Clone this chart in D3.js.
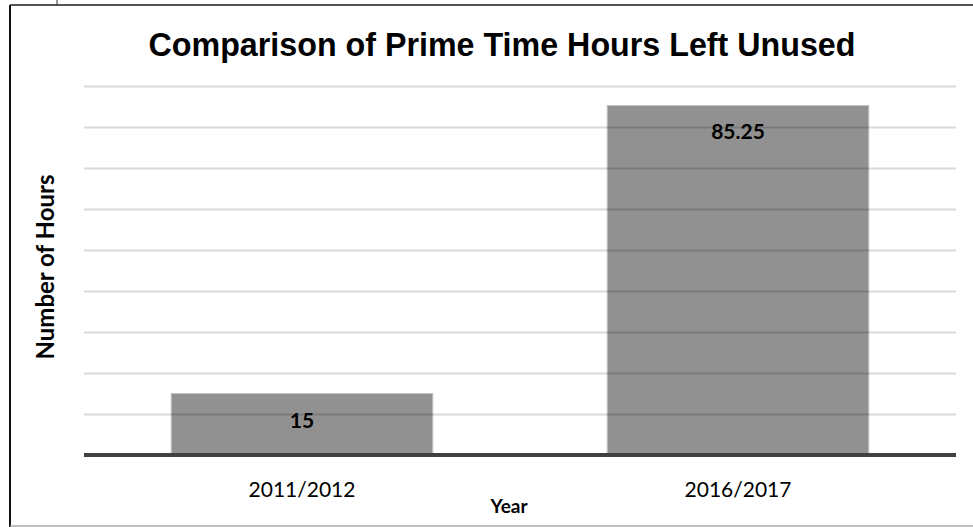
<!DOCTYPE html>
<html>
<head>
<meta charset="utf-8">
<script src="https://cdn.jsdelivr.net/npm/d3@7"></script>
<style>
  html, body { margin: 0; padding: 0; background: #fff; }
  svg { display: block; }
</style>
</head>
<body>
<svg id="chart" width="973" height="527"></svg>
<script>
const categories = ["2011/2012", "2016/2017"];
const values = [15, 85.25];
const valueLabels = ["15", "85.25"];
const gridTicks = [10, 20, 30, 40, 50, 60, 70, 80, 90];
const title = "Comparison of Prime Time Hours Left Unused";
const xTitle = "Year";
const yTitle = "Number of Hours";

const svg = d3.select("#chart");
const W = 973, H = 527;
svg.append("rect").attr("width", W).attr("height", H).attr("fill", "#fff");

// frame
svg.append("line").attr("x1", 10).attr("x2", W).attr("y1", 5).attr("y2", 5)
  .attr("stroke", "#1a1a1a").attr("stroke-width", 1.6);
svg.append("line").attr("x1", 10).attr("x2", 10).attr("y1", 5).attr("y2", H)
  .attr("stroke", "#111").attr("stroke-width", 2);
svg.append("line").attr("x1", 57).attr("x2", 57).attr("y1", 0).attr("y2", 5)
  .attr("stroke", "#333").attr("stroke-width", 1);
svg.append("line").attr("x1", 10).attr("x2", W).attr("y1", 526).attr("y2", 526)
  .attr("stroke", "#aaa").attr("stroke-width", 1.5);

const x = d3.scaleBand().domain(categories).range([84, 956]).paddingInner(0.4).paddingOuter(0.2);
const y = d3.scaleLinear().domain([0, 90]).range([455, 86]);

// bars
svg.append("g").selectAll("rect").data(values).join("rect")
  .attr("x", (d, i) => x(categories[i]))
  .attr("y", d => y(d))
  .attr("width", x.bandwidth())
  .attr("height", d => y(0) - y(d))
  .attr("fill", "#919191")
  .attr("stroke", "#c4c4c4")
  .attr("stroke-width", 1);

// gridlines
const gAxis = svg.append("g").attr("transform", "translate(84,0)")
  .call(d3.axisLeft(y).tickValues(gridTicks).tickSize(-872).tickFormat(""));
gAxis.select(".domain").remove();
gAxis.selectAll(".tick line").attr("stroke", "rgba(0,0,0,0.15)").attr("stroke-width", 2);

// baseline
svg.append("line").attr("x1", 84).attr("x2", 956).attr("y1", y(0)).attr("y2", y(0))
  .attr("stroke", "#404040").attr("stroke-width", 4);

// value labels
svg.append("g").selectAll("text").data(values).join("text")
  .attr("x", (d, i) => x(categories[i]) + x.bandwidth() / 2)
  .attr("y", d => y(d) + 34)
  .attr("text-anchor", "middle")
  .attr("font-family", "Lato, 'Open Sans', sans-serif")
  .attr("font-weight", "bold")
  .attr("font-size", 21)
  .attr("fill", "#000")
  .text((d, i) => valueLabels[i]);

// x axis labels
const xAxis = svg.append("g").attr("transform", `translate(0,${y(0)})`)
  .call(d3.axisBottom(x).tickSize(0).tickPadding(27));
xAxis.select(".domain").remove();
xAxis.selectAll("text")
  .attr("font-family", "Lato, 'Open Sans', sans-serif")
  .attr("font-size", 21)
  .attr("fill", "#000");

// title
svg.append("text").attr("x", 502).attr("y", 56)
  .attr("text-anchor", "middle")
  .attr("font-family", "'Liberation Sans', Arial, sans-serif")
  .attr("font-weight", "bold")
  .attr("font-size", 33)
  .attr("textLength", 707)
  .attr("lengthAdjust", "spacingAndGlyphs")
  .attr("fill", "#000")
  .text(title);

// axis titles
svg.append("text").attr("x", 509).attr("y", 513)
  .attr("text-anchor", "middle")
  .attr("font-family", "Lato, 'Open Sans', sans-serif")
  .attr("font-weight", "bold")
  .attr("font-size", 19)
  .attr("fill", "#000")
  .text(xTitle);

svg.append("text")
  .attr("transform", "translate(54,267) rotate(-90)")
  .attr("text-anchor", "middle")
  .attr("font-family", "Lato, 'Open Sans', sans-serif")
  .attr("font-weight", "bold")
  .attr("font-size", 24)
  .attr("fill", "#000")
  .text(yTitle);
</script>
</body>
</html>
